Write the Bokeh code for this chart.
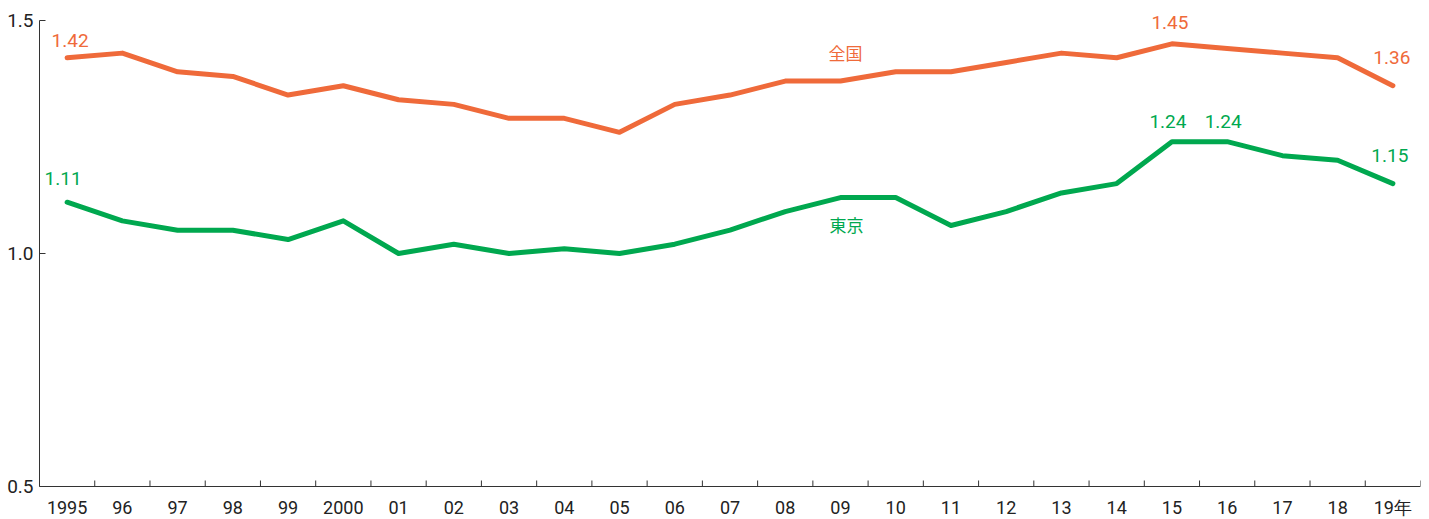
import math
from bokeh.plotting import figure
from bokeh.models import Range1d, FixedTicker, ColumnDataSource, LabelSet, Label
from bokeh.core.properties import value
from bokeh.embed import file_html
from bokeh.resources import INLINE

years = ["1995", "96", "97", "98", "99", "2000", "01", "02", "03", "04", "05", "06",
         "07", "08", "09", "10", "11", "12", "13", "14", "15", "16", "17", "18", "19年"]
national = [1.42, 1.43, 1.39, 1.38, 1.34, 1.36, 1.33, 1.32, 1.29, 1.29, 1.26, 1.32,
            1.34, 1.37, 1.37, 1.39, 1.39, 1.41, 1.43, 1.42, 1.45, 1.44, 1.43, 1.42, 1.36]
tokyo = [1.11, 1.07, 1.05, 1.05, 1.03, 1.07, 1.00, 1.02, 1.00, 1.01, 1.00, 1.02,
         1.05, 1.09, 1.12, 1.12, 1.06, 1.09, 1.13, 1.15, 1.24, 1.24, 1.21, 1.20, 1.15]
y_ticks = [0.5, 1.0, 1.5]
national_label_idx = [0, 20, 24]
tokyo_label_idx = [0, 20, 21, 24]
series_names = ["全国", "東京"]

ORANGE = "#EF6A3A"
GREEN = "#00A84F"
AXIS = "#333333"
FONT = "Roboto"
CJK = "Noto Sans CJK JP"

H = 519
PAD_TOP, PAD_BOTTOM = 20, 33          # pixels of frame above 1.5 / below 0.5 (room for labels)
px_per_unit = (H - PAD_TOP - PAD_BOTTOM) / (y_ticks[-1] - y_ticks[0])
y_min, y_max = y_ticks[0], y_ticks[-1]

xs = [i + 0.5 for i in range(len(years))]
bounds_x = list(range(len(years) + 1))

p = figure(width=1421, height=H, output_backend="svg", toolbar_location=None,
           x_axis_location=None,
           x_range=Range1d(0, len(years)),
           y_range=Range1d(y_min - PAD_BOTTOM / px_per_unit, y_max + PAD_TOP / px_per_unit),
           min_border_left=39, min_border_right=1, min_border_top=0, min_border_bottom=0)
p.grid.visible = False
p.outline_line_color = None

# x axis: baseline and inward ticks at category boundaries
p.line([bounds_x[0], bounds_x[-1]], [y_min, y_min], line_color=AXIS, line_width=1)
p.ray(x=bounds_x, y=[y_min] * len(bounds_x), length=6, length_units="screen",
      angle=math.pi / 2, line_color=AXIS, line_width=1)

p.line(xs, national, line_color=ORANGE, line_width=5, line_join="round", line_cap="round")
p.line(xs, tokyo, line_color=GREEN, line_width=5, line_join="round", line_cap="round")

def add_labels(idx, vals, color, offsets, dx):
    src = ColumnDataSource(dict(
        x=[xs[i] for i in idx], y=[vals[i] for i in idx],
        t=["%.2f" % vals[i] for i in idx], yo=offsets, xo=dx))
    p.add_layout(LabelSet(x="x", y="y", text="t", source=src, y_offset="yo", x_offset="xo",
                          text_color=color, text_font=value(FONT), text_font_size="19px",
                          text_align="center", text_baseline="middle"))

add_labels(national_label_idx, national, ORANGE, [17, 21, 28], [3, -2, -1])
add_labels(tokyo_label_idx, tokyo, GREEN, [24, 20, 20, 28], [-4, -4, -4, -3])

p.add_layout(Label(x=xs[14], y=1.431, text=series_names[0], text_color=ORANGE,
                   text_font=CJK, text_font_size="17px",
                   text_align="center", text_baseline="middle", x_offset=5))
p.add_layout(Label(x=xs[14], y=1.062, text=series_names[1], text_color=GREEN,
                   text_font=CJK, text_font_size="17px",
                   text_align="center", text_baseline="middle", x_offset=6))

# category labels under the x axis
cat_src = ColumnDataSource(dict(x=xs, y=[y_min] * len(xs), t=years))
p.add_layout(LabelSet(x="x", y="y", text="t", source=cat_src, y_offset=-21,
                      text_color="#222222", text_font=value(FONT), text_font_size="18px",
                      text_align="center", text_baseline="middle"))

ya = p.yaxis[0]
ya.bounds = (y_min, y_max)
ya.ticker = FixedTicker(ticks=y_ticks, minor_ticks=[])
ya.major_label_overrides = {t: "%.1f" % t for t in y_ticks}
ya.major_tick_in = 6
ya.major_tick_out = 0
ya.minor_tick_in = 0
ya.minor_tick_out = 0
ya.major_tick_line_color = AXIS
ya.axis_line_color = AXIS
ya.major_label_text_font = FONT
ya.major_label_text_font_size = "19px"
ya.major_label_text_color = "#222222"
ya.major_label_standoff = 6

open("out.html", "w").write(file_html(p, INLINE))
